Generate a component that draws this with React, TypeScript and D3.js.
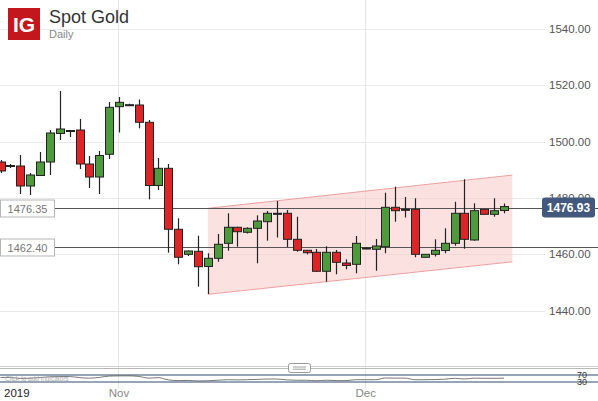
import React from 'react';
import * as d3 from 'd3';

const dates = [
  'Oct 18', 'Oct 20', 'Oct 21', 'Oct 22', 'Oct 23', 'Oct 24', 'Oct 25', 'Oct 27', 'Oct 28', 'Oct 29',
  'Oct 30', 'Oct 31', 'Nov 1', 'Nov 3', 'Nov 4', 'Nov 5', 'Nov 6', 'Nov 7', 'Nov 8', 'Nov 10',
  'Nov 11', 'Nov 12', 'Nov 13', 'Nov 14', 'Nov 15', 'Nov 17', 'Nov 18', 'Nov 19', 'Nov 20', 'Nov 21',
  'Nov 22', 'Nov 24', 'Nov 25', 'Nov 26', 'Nov 27', 'Nov 28', 'Nov 29', 'Dec 1', 'Dec 2', 'Dec 3',
  'Dec 4', 'Dec 5', 'Dec 6', 'Dec 8', 'Dec 9', 'Dec 10', 'Dec 11', 'Dec 12', 'Dec 13', 'Dec 15',
  'Dec 16', 'Dec 17',
];

const opens = [
  1492.75, 1491.33, 1491.33, 1484.23, 1487.96, 1492.75, 1502.88, 1503.94, 1504.12, 1492.04,
  1487.42, 1495.49, 1512.4, 1513.0, 1513.0, 1506.86, 1484.4, 1490.51, 1468.85, 1459.96,
  1461.03, 1455.63, 1458.54, 1463.87, 1469.56, 1467.78, 1469.2, 1471.55, 1474.53, 1474.53,
  1465.29, 1461.39, 1460.68, 1453.93, 1460.68, 1456.87, 1456.41, 1462.2, 1461.74, 1462.66,
  1476.66, 1475.95, 1475.95, 1458.9, 1459.96, 1461.31, 1463.87, 1474.53, 1465.04, 1475.95,
  1474.17, 1475.52,
];

const highs = [
  1493.46, 1492.04, 1495.24, 1488.85, 1496.31, 1504.12, 1517.97, 1504.12, 1508.03, 1494.88,
  1496.66, 1514.07, 1515.84, 1513.46, 1514.96, 1507.67, 1494.17, 1492.04, 1472.75, 1461.31,
  1466.57, 1460.32, 1467.18, 1474.53, 1469.77, 1469.56, 1473.82, 1475.35, 1478.9, 1475.7,
  1473.32, 1461.49, 1461.85, 1462.81, 1461.49, 1458.19, 1466.47, 1462.45, 1465.4, 1481.85,
  1483.98, 1480.32, 1479.86, 1460.07, 1465.29, 1469.2, 1478.65, 1486.61, 1478.08, 1476.06,
  1479.86, 1478.01,
];

const lows = [
  1488.85, 1490.62, 1481.39, 1481.03, 1487.78, 1488.13, 1500.57, 1501.63, 1490.27, 1483.52,
  1481.39, 1493.82, 1503.23, 1512.65, 1504.72, 1479.5, 1482.81, 1460.53, 1456.41, 1459.36,
  1448.45, 1445.86, 1457.34, 1461.24, 1462.66, 1467.35, 1456.77, 1464.8, 1465.93, 1462.56,
  1460.89, 1459.96, 1453.78, 1450.23, 1452.86, 1454.64, 1453.21, 1461.74, 1454.14, 1460.32,
  1471.55, 1473.04, 1458.9, 1458.83, 1459.18, 1460.32, 1463.02, 1461.95, 1464.8, 1474.1,
  1473.32, 1474.53,
];

const closes = [
  1489.56, 1491.51, 1484.23, 1488.13, 1492.75, 1503.06, 1504.48, 1503.77, 1492.04, 1487.42,
  1495.06, 1512.18, 1513.96, 1513.1, 1506.86, 1484.4, 1490.51, 1468.85, 1458.9, 1461.14,
  1455.56, 1458.54, 1463.52, 1469.56, 1467.99, 1469.2, 1471.79, 1474.53, 1474.46, 1465.29,
  1461.39, 1460.53, 1453.93, 1460.68, 1457.12, 1455.99, 1463.87, 1462.03, 1462.91, 1476.66,
  1475.45, 1475.6, 1459.96, 1459.96, 1461.39, 1463.87, 1474.53, 1465.29, 1475.45, 1474.17,
  1475.45, 1476.93,
];

const rsiValues = [
  56, 56, 50, 52, 55, 60, 61, 61, 55, 52,
  56, 64, 65, 65, 62, 52, 55, 42, 38, 39,
  36, 37, 40, 43, 42, 43, 45, 47, 47, 42,
  40, 40, 37, 40, 38, 38, 43, 43, 43, 53,
  52, 52, 43, 43, 44, 46, 51, 47, 52, 51,
  51, 52,
];

const yTicks = [1440, 1460, 1480, 1500, 1520, 1540];
const levelLines = [1476.35, 1462.4];
const channelIdx = [21, 51.85];
const channelTop = [1476.3, 1488.1];
const channelBottom = [1445.75, 1457.3];
const monthTicks = [
  { label: 'Nov', date: 'Nov 1' },
  { label: 'Dec', date: 'Dec 1' },
];
const yearLabel = '2019';
const lastPrice = 1476.93;
const rsiLevels = [70, 30];

const W = 598;
const H = 401;
const FONT = 'Liberation Sans, Arial, sans-serif';
const GREEN = '#4e9a3c';
const RED = '#dd2528';
const OUTLINE = '#222';

export default function App() {
  const x = d3.scaleLinear().domain([0, 51]).range([0.56, 503.93]);
  const y = d3.scaleLinear().domain([1440, 1540]).range([310.5, 29]);
  const rsiY = d3.scaleLinear().domain([30, 70]).range([382, 375]);
  const gridRight = 545;

  const channelPath =
    `M${x(channelIdx[0])},${y(channelTop[0])}` +
    `L${x(channelIdx[1])},${y(channelTop[1])}` +
    `L${x(channelIdx[1])},${y(channelBottom[1])}` +
    `L${x(channelIdx[0])},${y(channelBottom[0])}Z`;

  const rsiLine = d3
    .line<number>()
    .x((_, i) => x(i))
    .y((d) => rsiY(d))
    .curve(d3.curveMonotoneX)(rsiValues) || '';

  return (
    <svg
      width={W}
      height={H}
      viewBox={`0 0 ${W} ${H}`}
      style={{ position: 'absolute', left: 0, top: 0, background: '#fff' }}
      fontFamily={FONT}
    >
      <rect x={0} y={0} width={W} height={H} fill="#fff" />
      {/* horizontal gridlines */}
      {yTicks.map((t) => (
        <line
          key={'g' + t}
          x1={0}
          x2={gridRight}
          y1={Math.round(y(t)) + 0.5}
          y2={Math.round(y(t)) + 0.5}
          stroke="#e9e9e9"
          strokeWidth={1}
        />
      ))}
      {/* vertical gridlines */}
      {monthTicks.map((m) => {
        const xi = Math.round(x(dates.indexOf(m.date))) - 0.5;
        return (
          <line key={'v' + m.label} x1={xi} x2={xi} y1={0} y2={388} stroke="#e6e6e6" strokeWidth={1} />
        );
      })}
      {/* channel */}
      <path d={channelPath} fill="#f9c9c9" fillOpacity={0.55} stroke="none" />
      <line
        x1={x(channelIdx[0])}
        y1={y(channelTop[0])}
        x2={x(channelIdx[1])}
        y2={y(channelTop[1])}
        stroke="#eea0a0"
        strokeWidth={1}
      />
      <line
        x1={x(channelIdx[0])}
        y1={y(channelBottom[0])}
        x2={x(channelIdx[1])}
        y2={y(channelBottom[1])}
        stroke="#eea0a0"
        strokeWidth={1}
      />
      {/* level lines */}
      {levelLines.map((v) => {
        const yy = Math.round(y(v)) + 0.5;
        return (
          <g key={'l' + v}>
            <line x1={54} x2={W} y1={yy} y2={yy} stroke="#555" strokeWidth={1} />
            <rect x={0.5} y={yy - 8.5} width={54} height={17} fill="#fff" stroke="#b5b5b5" strokeWidth={1} />
            <text x={27.5} y={yy + 4} textAnchor="middle" fontSize={11} fill="#777">
              {v.toFixed(2)}
            </text>
          </g>
        );
      })}
      {/* candles */}
      {dates.map((d, i) => {
        const o = opens[i];
        const c = closes[i];
        const cx = Math.round(x(i));
        const top = Math.min(y(o), y(c));
        const h = Math.max(1, Math.abs(y(o) - y(c)));
        const doji = Math.abs(y(o) - y(c)) < 1.5;
        const fill = doji ? OUTLINE : c >= o ? GREEN : RED;
        return (
          <g key={d}>
            <line
              x1={cx + 0.5}
              x2={cx + 0.5}
              y1={y(highs[i])}
              y2={y(lows[i])}
              stroke={OUTLINE}
              strokeWidth={1.2}
            />
            <rect x={cx - 3.5} y={top} width={8} height={h} fill={fill} stroke={OUTLINE} strokeWidth={1} />
          </g>
        );
      })}
      {/* right axis labels */}
      {yTicks.map((t) => (
        <text key={'t' + t} x={549} y={y(t) + 4} fontSize={11.5} fill="#555">
          {t.toFixed(2)}
        </text>
      ))}
      {/* last price box */}
      <g>
        <rect x={542} y={Math.round(y(lastPrice)) - 9.5} width={53} height={20} rx={3} fill="#42597d" />
        <text
          x={568.5}
          y={Math.round(y(lastPrice)) + 4.5}
          textAnchor="middle"
          fontSize={12}
          fontWeight="bold"
          fill="#fff"
        >
          {lastPrice.toFixed(2)}
        </text>
      </g>
      {/* title */}
      <rect x={8} y={8} width={32} height={32} fill="#c3161d" />
      <text x={24} y={32} textAnchor="middle" fontSize={21} fontWeight="bold" fill="#fff">
        IG
      </text>
      <text x={49} y={23} fontSize={18} fill="#333">
        Spot Gold
      </text>
      <text x={49} y={38} fontSize={11} fill="#888">
        Daily
      </text>
      {/* indicator panel separator */}
      <line x1={0} x2={W} y1={366.5} y2={366.5} stroke="#d0d0d0" strokeWidth={1} />
      <line x1={0} x2={W} y1={368.5} y2={368.5} stroke="#b8b8b8" strokeWidth={1} />
      <rect x={288.5} y={363.5} width={22} height={9} rx={2} fill="#fff" stroke="#999" strokeWidth={1} />
      <line x1={293} x2={306} y1={367} y2={367} stroke="#888" strokeWidth={0.8} />
      <line x1={293} x2={306} y1={369.2} y2={369.2} stroke="#888" strokeWidth={0.8} />
      {rsiLevels.map((lv) => (
        <line
          key={'r' + lv}
          x1={0}
          x2={W}
          y1={rsiY(lv)}
          y2={rsiY(lv)}
          stroke="#2e4d6e"
          strokeWidth={1}
        />
      ))}
      <path d={rsiLine} fill="none" stroke="#555" strokeWidth={0.8} />
      <text x={5} y={381} fontSize={6.5} fill="#aaa">
        Click to add indicators
      </text>
      {rsiLevels.map((lv) => (
        <text key={'rt' + lv} x={577} y={rsiY(lv) + 3} fontSize={9} fill="#333">
          {lv}
        </text>
      ))}
      {/* x-axis labels */}
      <text x={4} y={397} fontSize={11.5} fill="#222">
        {yearLabel}
      </text>
      {monthTicks.map((m) => (
        <text
          key={'m' + m.label}
          x={x(dates.indexOf(m.date))}
          y={397}
          textAnchor="middle"
          fontSize={11.5}
          fill="#888"
        >
          {m.label}
        </text>
      ))}
    </svg>
  );
}
